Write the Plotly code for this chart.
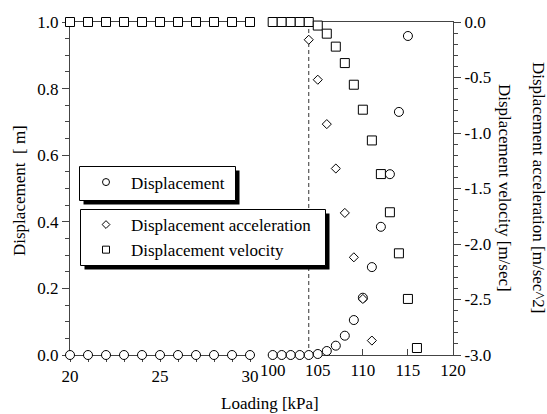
import plotly.graph_objects as go

# ---------------- data ----------------
load_left = [20, 21, 22, 23, 24, 25, 26, 27, 28, 29, 30]
disp_left = [0, 0, 0, 0, 0, 0, 0, 0, 0, 0, 0]
vel_left = [0, 0, 0, 0, 0, 0, 0, 0, 0, 0, 0]

load_disp_right = [100, 101, 102, 103, 104, 105, 106, 107, 108, 109, 110, 111, 112, 113, 114, 115]
disp_right = [0, 0, 0, 0, 0, 0.003, 0.012, 0.028, 0.058, 0.105, 0.172, 0.264, 0.385, 0.543, 0.73, 0.958]

load_acc = [104, 105, 106, 107, 108, 109, 110, 111]
acc = [-0.16, -0.52, -0.92, -1.32, -1.72, -2.12, -2.495, -2.87]

load_vel_right = [100, 101, 102, 103, 104, 105, 106, 107, 108, 109, 110, 111, 112, 113, 114, 115, 116]
vel_right = [0, 0, 0, 0, 0, -0.032, -0.105, -0.222, -0.37, -0.565, -0.79, -1.067, -1.37, -1.714, -2.084, -2.495, -2.937]

critical_load = 104

series_names = ["Displacement", "Displacement acceleration", "Displacement velocity"]

x1_ticks = [20, 25, 30]
x1_labels = ["20", "25", "30"]
x2_ticks = [100, 105, 110, 115, 120]
x2_labels = ["100", "105", "110", "115", "120"]
y1_ticks = [0, 0.2, 0.4, 0.6, 0.8, 1.0]
y1_labels = ["0.0", "0.2", "0.4", "0.6", "0.8", "1.0"]
y2_ticks = [0, -0.5, -1.0, -1.5, -2.0, -2.5, -3.0]
y2_labels = ["0.0", "-0.5", "-1.0", "-1.5", "-2.0", "-2.5", "-3.0"]

# ---------------- style ----------------
FONT = "Liberation Serif"
FS = 17
AX = "#444444"
W, H = 547, 414
ML, MR, MT, MB = 70, 94, 22, 59
PW = W - ML - MR
PH = H - MT - MB


def px_x(p):
    return (p - ML) / PW


def px_y(p):
    return (H - MB - p) / PH


mk = lambda sym, size: dict(symbol=sym, size=size, color="white", line=dict(color="black", width=1))

fig = go.Figure()
# data traces
fig.add_trace(go.Scatter(x=load_left, y=disp_left, xaxis="x", yaxis="y", mode="markers",
                         marker=mk("circle", 9), name=series_names[0], showlegend=False, cliponaxis=False))
fig.add_trace(go.Scatter(x=load_disp_right, y=disp_right, xaxis="x2", yaxis="y", mode="markers",
                         marker=mk("circle", 9), name=series_names[0], showlegend=False, cliponaxis=False))
fig.add_trace(go.Scatter(x=load_left, y=vel_left, xaxis="x", yaxis="y2", mode="markers",
                         marker=mk("square", 9), name=series_names[2], showlegend=False, cliponaxis=False))
fig.add_trace(go.Scatter(x=load_acc, y=acc, xaxis="x2", yaxis="y2", mode="markers",
                         marker=mk("diamond", 7), name=series_names[1], showlegend=False, cliponaxis=False))
fig.add_trace(go.Scatter(x=load_vel_right, y=vel_right, xaxis="x2", yaxis="y2", mode="markers",
                         marker=mk("square", 9), name=series_names[2], showlegend=False, cliponaxis=False))

# legend entries (smaller symbols, as in the original legend boxes)
fig.add_trace(go.Scatter(x=[None], y=[None], xaxis="x2", yaxis="y", mode="markers",
                         marker=mk("circle", 7), name=series_names[0], legend="legend", showlegend=True))
fig.add_trace(go.Scatter(x=[None], y=[None], xaxis="x2", yaxis="y2", mode="markers",
                         marker=mk("diamond", 6), name=series_names[1], legend="legend2", showlegend=True))
fig.add_trace(go.Scatter(x=[None], y=[None], xaxis="x2", yaxis="y2", mode="markers",
                         marker=mk("square", 7), name=series_names[2], legend="legend2", showlegend=True))

tickfont = dict(family=FONT, size=FS, color="black")
gap_l = 180 / PW
gap_r = (272.7 - ML) / PW

fig.update_layout(
    width=W, height=H,
    margin=dict(l=ML, r=MR, t=MT, b=MB, pad=0),
    paper_bgcolor="white", plot_bgcolor="white",
    font=dict(family=FONT, size=FS, color="black"),
    xaxis=dict(domain=[0, gap_l], range=[20, 30], anchor="y", showgrid=False, zeroline=False,
               showline=True, linecolor=AX, linewidth=1, mirror=True, layer="below traces",
               tickvals=x1_ticks, ticktext=x1_labels, ticks="outside", ticklen=6, tickcolor=AX,
               minor=dict(dtick=1, ticks="outside", ticklen=6, tickcolor=AX),
               tickfont=tickfont),
    xaxis2=dict(domain=[gap_r, 1], range=[100, 120], anchor="y", showgrid=False, zeroline=False,
                showline=True, linecolor=AX, linewidth=1, mirror=True, layer="below traces",
                tickvals=x2_ticks, ticktext=x2_labels, ticks="inside", ticklen=6, tickcolor=AX,
                tickfont=tickfont),
    yaxis=dict(range=[0, 1], anchor="x", showgrid=False, zeroline=False,
               showline=True, linecolor=AX, linewidth=1, layer="below traces",
               tickvals=y1_ticks, ticktext=y1_labels, ticks="outside", ticklen=7, tickcolor=AX,
               minor=dict(dtick=0.05, ticks="outside", ticklen=4, tickcolor=AX),
               tickfont=tickfont),
    yaxis2=dict(range=[-3, 0], anchor="x2", overlaying="y", side="right", showgrid=False,
                zeroline=False, showline=True, linecolor=AX, linewidth=1, layer="below traces",
                tickvals=y2_ticks, ticktext=y2_labels, ticks="outside", ticklen=7, tickcolor=AX,
                minor=dict(dtick=0.1, ticks="outside", ticklen=4, tickcolor=AX),
                tickfont=tickfont),
    legend=dict(x=px_x(81), y=px_y(164.5), xanchor="left", yanchor="top", xref="paper", yref="paper",
                bgcolor="rgba(0,0,0,0)", borderwidth=0, itemwidth=40,
                font=dict(family=FONT, size=FS, color="black")),
    legend2=dict(x=px_x(81), y=px_y(207), xanchor="left", yanchor="top", xref="paper", yref="paper",
                 bgcolor="rgba(0,0,0,0)", borderwidth=0, itemwidth=40, traceorder="normal",
                 font=dict(family=FONT, size=FS, color="black")),
)

# dashed critical line
fig.add_shape(type="line", xref="x2", yref="y", x0=critical_load, x1=critical_load, y0=0, y1=1,
              line=dict(color="#333333", width=1, dash="4px,3px"), layer="below")

# legend boxes with black drop shadows
SH = 4
for (x0, y0, x1, y1) in [(79.5, 166.5, 235.5, 200.5), (80.5, 209.5, 325.5, 265.5)]:
    fig.add_shape(type="rect", xref="paper", yref="paper",
                  x0=px_x(x0 + SH), x1=px_x(x1 + SH), y0=px_y(y1 + SH), y1=px_y(y0 + SH),
                  line=dict(width=0), fillcolor="black", layer="above")
    fig.add_shape(type="rect", xref="paper", yref="paper",
                  x0=px_x(x0), x1=px_x(x1), y0=px_y(y1), y1=px_y(y0),
                  line=dict(width=1, color="black"), fillcolor="white", layer="above")

# axis titles
fig.add_annotation(text="Loading [kPa]", xref="paper", yref="paper", x=px_x(270), y=px_y(403),
                   showarrow=False, xanchor="center", yanchor="middle", font=dict(size=FS))
fig.add_annotation(text="Displacement  [ m]", xref="paper", yref="paper", x=px_x(20), y=px_y(190),
                   showarrow=False, textangle=-90, xanchor="center", yanchor="middle", font=dict(size=FS))
fig.add_annotation(text="Displacement velocity [m/sec]", xref="paper", yref="paper", x=px_x(505),
                   y=px_y(188), showarrow=False, textangle=90, xanchor="center", yanchor="middle",
                   font=dict(size=FS))
fig.add_annotation(text="Displacement acceleration [m/sec^2]", xref="paper", yref="paper", x=px_x(539),
                   y=px_y(188), showarrow=False, textangle=90, xanchor="center", yanchor="middle",
                   font=dict(size=FS))

fig.write_html("out.html")
